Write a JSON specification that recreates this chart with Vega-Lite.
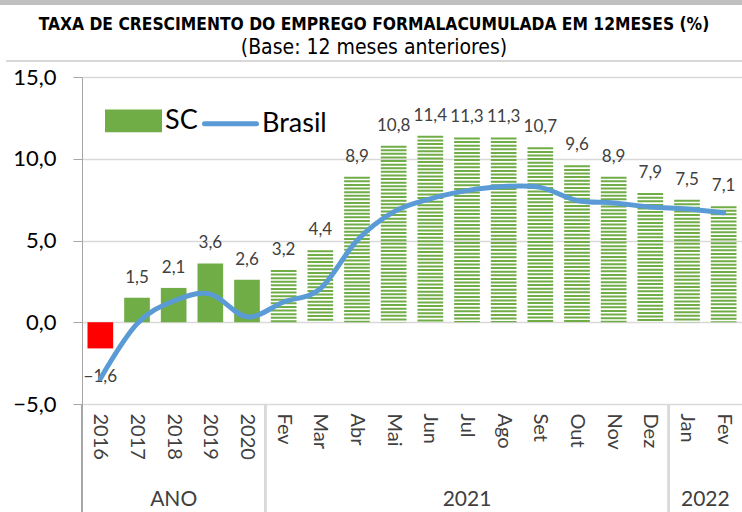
{
  "$schema": "https://vega.github.io/schema/vega-lite/v6.json",
  "width": 660,
  "height": 327,
  "autosize": {"type": "none"},
  "padding": {"left": 82, "top": 77, "right": 0, "bottom": 108},
  "background": "white",
  "config": {
    "locale": {"number": {"decimal": ",", "thousands": ".", "grouping": [3], "currency": ["", ""]}},
    "view": {"stroke": null},
    "font": "Lato"
  },
  "title": {
    "text": "TAXA DE CRESCIMENTO DO EMPREGO FORMALACUMULADA EM 12MESES (%)",
    "subtitle": "(Base: 12 meses anteriores)",
    "font": "DejaVu Sans Condensed, sans-serif",
    "fontSize": 17.3,
    "fontWeight": "bold",
    "color": "#000000",
    "subtitleFont": "DejaVu Sans Condensed, sans-serif",
    "subtitleFontSize": 21,
    "subtitleColor": "#000000",
    "anchor": "middle",
    "frame": "group",
    "dx": -38,
    "offset": -58,
    "subtitlePadding": 4
  },
  "data": {
    "values": [
      {"k": "2016", "sc": -1.6, "br": -3.45},
      {"k": "2017", "sc": 1.5, "br": -0.1},
      {"k": "2018", "sc": 2.1, "br": 1.3},
      {"k": "2019", "sc": 3.6, "br": 1.72},
      {"k": "2020", "sc": 2.6, "br": 0.33},
      {"k": "Fev21", "sc": 3.2, "br": 1.24},
      {"k": "Mar21", "sc": 4.4, "br": 2.05},
      {"k": "Abr21", "sc": 8.9, "br": 5.0},
      {"k": "Mai21", "sc": 10.8, "br": 6.75},
      {"k": "Jun21", "sc": 11.4, "br": 7.55},
      {"k": "Jul21", "sc": 11.3, "br": 8.05},
      {"k": "Ago21", "sc": 11.3, "br": 8.3},
      {"k": "Set21", "sc": 10.7, "br": 8.25},
      {"k": "Out21", "sc": 9.6, "br": 7.45},
      {"k": "Nov21", "sc": 8.9, "br": 7.3},
      {"k": "Dez21", "sc": 7.9, "br": 7.05},
      {"k": "Jan22", "sc": 7.5, "br": 6.93},
      {"k": "Fev22", "sc": 7.1, "br": 6.7}
    ]
  },
  "encoding": {
    "x": {
      "field": "k",
      "type": "nominal",
      "scale": {
        "domain": ["2016", "2017", "2018", "2019", "2020", "Fev21", "Mar21", "Abr21", "Mai21", "Jun21", "Jul21", "Ago21", "Set21", "Out21", "Nov21", "Dez21", "Jan22", "Fev22"],
        "paddingInner": 0,
        "paddingOuter": 0
      },
      "axis": {
        "title": null,
        "labelAngle": 90,
        "labelExpr": "length(datum.value) == 4 ? datum.value : slice(datum.value, 0, 3)",
        "labelFont": "Lato",
        "labelFontSize": 20,
        "labelColor": "#404040",
        "ticks": false,
        "domain": false,
        "grid": false,
        "labelPadding": 9
      }
    }
  },
  "layer": [
    {
      "mark": {"type": "rect", "color": "#C0C0C0"},
      "encoding": {
        "x": {"datum": "2016", "type": "nominal", "bandPosition": -2.236},
        "x2": {"datum": "Fev22", "bandPosition": 1},
        "y": {"datum": 19.71},
        "y2": {"datum": 19.4}
      }
    },
    {
      "mark": {"type": "rect", "color": "#D9D9D9"},
      "encoding": {
        "x": {"datum": "2016", "type": "nominal", "bandPosition": -2.06},
        "x2": {"datum": "Fev22", "bandPosition": 1},
        "y": {"datum": 16.02},
        "y2": {"datum": 15.93}
      }
    },
    {
      "mark": {"type": "bar", "color": "#FF0000", "width": {"band": 0.7}},
      "transform": [{"filter": "datum.k == '2016'"}],
      "encoding": {
        "y": {
          "field": "sc",
          "type": "quantitative",
          "scale": {"domain": [-5, 15], "nice": false, "zero": false},
          "axis": {
            "title": null,
            "values": [-5, 0, 5, 10, 15],
            "labelExpr": "replace(format(datum.value, '.1f'), '.', ',')",
            "grid": true,
            "gridColor": "#D9D9D9",
            "gridWidth": 1.5,
            "domainColor": "#A6A6A6",
            "tickColor": "#A6A6A6",
            "tickSize": 9,
            "labelFont": "Lato",
            "labelFontSize": 22,
            "labelColor": "#000000",
            "labelPadding": 17
          }
        },
        "y2": {"datum": 0}
      }
    },
    {
      "mark": {"type": "bar", "width": {"band": 0.7}},
      "transform": [{"filter": "indexof(['2017','2018','2019','2020'], datum.k) >= 0"}],
      "encoding": {
        "y": {"field": "sc", "type": "quantitative"},
        "y2": {"datum": 0},
        "color": {
          "datum": "SC",
          "type": "nominal",
          "scale": {"domain": ["SC", "Brasil"], "range": ["#70AD47", "#5B9BD5"]},
          "legend": {
            "orient": "none",
            "legendX": 23,
            "legendY": 15,
            "direction": "horizontal",
            "title": null,
            "labelFont": "Lato",
            "labelFontSize": 27,
            "labelColor": "#000000",
            "labelOffset": 3,
            "columnPadding": -4,
            "symbolSize": 2704,
            "symbolStrokeWidth": 5,
            "encode": {
              "symbols": {
                "update": {
                  "shape": {"signal": "datum.value == 'SC' ? 'M-1,-0.34H1V0.34H-1Z' : 'M-1,0H1'"},
                  "fill": {"signal": "datum.value == 'SC' ? '#70AD47' : 'transparent'"},
                  "stroke": {"signal": "datum.value == 'SC' ? 'transparent' : '#5B9BD5'"},
                  "strokeWidth": {"value": 5},
                  "strokeCap": {"value": "round"},
                  "opacity": {"value": 1}
                }
              }
            }
          }
        }
      }
    },
    {
      "mark": {"type": "rule", "color": "#70AD47", "strokeWidth": 25.7, "strokeDash": [2, 1.6], "strokeCap": "butt"},
      "transform": [{"filter": "length(datum.k) == 5"}],
      "encoding": {
        "y": {"field": "sc", "type": "quantitative"},
        "y2": {"datum": 0}
      }
    },
    {
      "mark": {"type": "rule", "color": "#D9D9D9", "strokeWidth": 1.5},
      "encoding": {
        "x": {"datum": "Fev21", "type": "nominal", "bandPosition": 0},
        "y": {"datum": -5},
        "y2": {"datum": -12}
      }
    },
    {
      "mark": {"type": "rule", "color": "#D9D9D9", "strokeWidth": 1.5},
      "encoding": {
        "x": {"datum": "Jan22", "type": "nominal", "bandPosition": 0},
        "y": {"datum": -5},
        "y2": {"datum": -12}
      }
    },
    {
      "mark": {"type": "rule", "color": "#A6A6A6", "strokeWidth": 1},
      "encoding": {
        "x": {"datum": "2016", "type": "nominal", "bandPosition": 0},
        "y": {"datum": -5},
        "y2": {"datum": -12}
      }
    },
    {
      "mark": {"type": "text", "font": "Lato", "fontSize": 17, "color": "#404040", "baseline": "alphabetic", "dy": -15},
      "transform": [{"filter": "datum.sc > 0"}],
      "encoding": {
        "y": {"field": "sc", "type": "quantitative"},
        "text": {"field": "sc", "type": "quantitative", "format": ".1f"}
      }
    },
    {
      "mark": {"type": "text", "font": "Lato", "fontSize": 17, "color": "#404040", "baseline": "alphabetic", "dy": 34},
      "transform": [{"filter": "datum.sc < 0"}],
      "encoding": {
        "y": {"field": "sc", "type": "quantitative"},
        "text": {"field": "sc", "type": "quantitative", "format": ".1f"}
      }
    },
    {
      "mark": {"type": "line", "strokeWidth": 5, "interpolate": "cardinal", "strokeCap": "round"},
      "encoding": {
        "y": {"field": "br", "type": "quantitative"},
        "color": {"datum": "Brasil", "type": "nominal"}
      }
    },
    {
      "data": {"values": [{"k": "2018", "t": "ANO"}, {"k": "Jul21", "t": "2021"}]},
      "mark": {"type": "text", "font": "Lato", "fontSize": 21, "color": "#404040", "baseline": "middle"},
      "encoding": {
        "y": {"datum": -10.85},
        "text": {"field": "t", "type": "nominal"}
      }
    },
    {
      "data": {"values": [{"k": "Fev22", "t": "2022"}]},
      "mark": {"type": "text", "font": "Lato", "fontSize": 21, "color": "#404040", "baseline": "middle"},
      "encoding": {
        "x": {"field": "k", "type": "nominal", "bandPosition": 0},
        "y": {"datum": -10.85},
        "text": {"field": "t", "type": "nominal"}
      }
    }
  ]
}
